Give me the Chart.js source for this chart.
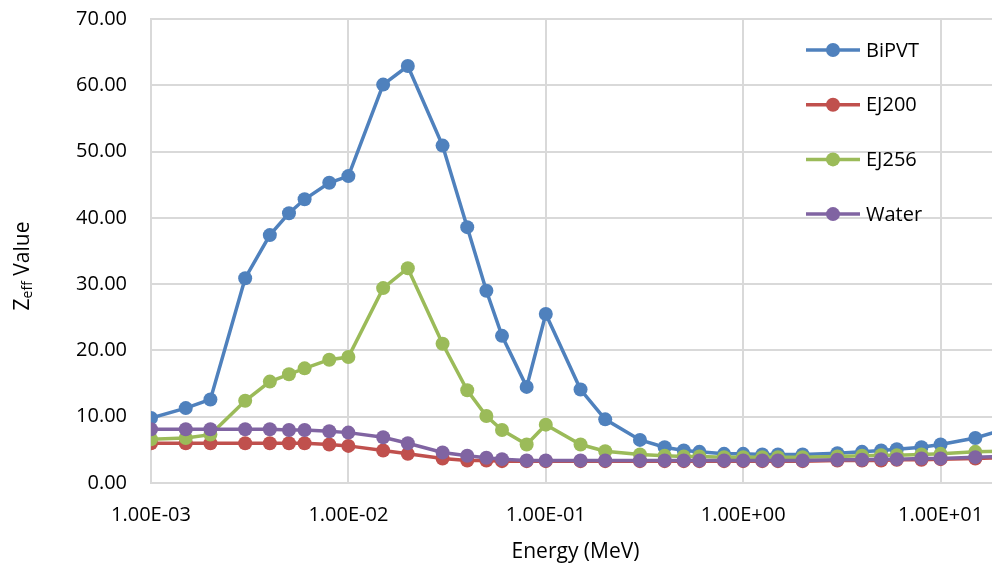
<!DOCTYPE html>
<html>
<head>
<meta charset="utf-8">
<script src="https://cdn.jsdelivr.net/npm/chart.js@4.4.1/dist/chart.umd.min.js"></script>
<style>
  html, body { margin: 0; padding: 0; background: #fff; overflow: hidden; }
  #wrap { width: 1010px; height: 573px; }
</style>
</head>
<body>
<div id="wrap"><canvas id="zeffchart" width="1010" height="573"></canvas></div>
<script>
const energy = [0.001, 0.0015, 0.002, 0.003, 0.004, 0.005, 0.006, 0.008, 0.01, 0.015, 0.02, 0.03, 0.04, 0.05, 0.06, 0.08,
    0.1, 0.15, 0.2, 0.3, 0.4, 0.5, 0.6, 0.8, 1, 1.25, 1.5, 2, 3, 4, 5, 6, 8, 10, 15, 20];

const bipvt = [9.8, 11.3, 12.6, 30.9, 37.4, 40.7, 42.8, 45.3, 46.3, 60.1, 62.9, 50.9, 38.6, 29.0, 22.2, 14.5,
    25.5, 14.1, 9.6, 6.5, 5.4, 4.9, 4.7, 4.4, 4.4, 4.3, 4.3, 4.3, 4.5, 4.7, 4.9, 5.1, 5.4, 5.8, 6.8, 7.9];
const ej200 = [6.0, 6.0, 6.0, 6.0, 6.0, 6.0, 6.0, 5.8, 5.6, 4.9, 4.4, 3.7, 3.4, 3.4, 3.3, 3.3,
    3.3, 3.3, 3.3, 3.3, 3.3, 3.3, 3.3, 3.3, 3.3, 3.3, 3.3, 3.3, 3.4, 3.4, 3.4, 3.5, 3.5, 3.6, 3.7, 3.8];
const ej256 = [6.6, 6.8, 7.3, 12.4, 15.3, 16.4, 17.3, 18.6, 19.0, 29.4, 32.4, 21.0, 14.0, 10.1, 8.0, 5.8,
    8.8, 5.8, 4.8, 4.3, 4.1, 4.0, 4.0, 3.9, 3.9, 3.9, 3.9, 3.9, 4.0, 4.1, 4.2, 4.2, 4.3, 4.4, 4.7, 4.8];
const water = [8.1, 8.1, 8.1, 8.1, 8.1, 8.0, 8.0, 7.8, 7.6, 6.9, 6.0, 4.6, 4.1, 3.8, 3.6, 3.4,
    3.4, 3.4, 3.4, 3.4, 3.4, 3.4, 3.4, 3.4, 3.4, 3.4, 3.4, 3.4, 3.5, 3.5, 3.6, 3.6, 3.7, 3.7, 3.9, 4.0];

const seriesNames = ['BiPVT', 'EJ200', 'EJ256', 'Water'];
const seriesColors = ['#4f81bd', '#c0504d', '#9bbb59', '#8064a2'];
const xTicks = [0.001, 0.01, 0.1, 1, 10];
const yTicks = [0, 10, 20, 30, 40, 50, 60, 70];

const FONT = "'Open Sans', sans-serif";

function pts(vals) {
    return energy.map((e, i) => ({ x: e, y: vals[i] }));
}

function sci(v) {
    // excel style 1.00E-03
    let exp = Math.round(Math.log10(v));
    let mant = v / Math.pow(10, exp);
    let s = exp < 0 ? '-' : '+';
    let a = Math.abs(exp);
    return mant.toFixed(2) + 'E' + s + (a < 10 ? '0' + a : a);
}

const allSeries = [bipvt, ej200, ej256, water];
const datasets = allSeries.map((vals, i) => ({
    label: seriesNames[i],
    data: pts(vals),
    borderColor: seriesColors[i],
    backgroundColor: seriesColors[i],
    pointBackgroundColor: seriesColors[i],
    pointBorderColor: seriesColors[i],
    borderWidth: 3.5,
    pointRadius: 7,
    pointBorderWidth: 0,
    tension: 0,
    order: 3 - i
}));

// y axis title with subscript
const yTitlePlugin = {
    id: 'ytitle',
    afterDraw(chart) {
        const ctx = chart.ctx;
        ctx.save();
        ctx.translate(23, 266);
        ctx.rotate(-Math.PI / 2);
        ctx.fillStyle = '#000';
        ctx.textBaseline = 'middle';
        ctx.font = '21px ' + FONT;
        const w1 = ctx.measureText('Z').width;
        const w3 = ctx.measureText(' Value').width;
        ctx.font = '14px ' + FONT;
        const w2 = ctx.measureText('eff').width;
        let x = -(w1 + w2 + w3) / 2;
        ctx.font = '21px ' + FONT;
        ctx.fillText('Z', x, 0);
        x += w1;
        ctx.font = '14px ' + FONT;
        ctx.fillText('eff', x, 5);
        x += w2;
        ctx.font = '21px ' + FONT;
        ctx.fillText(' Value', x, 0);
        ctx.restore();
    }
};

// legend drawn inside plot area
const legendPlugin = {
    id: 'inlegend',
    afterDraw(chart) {
        const ctx = chart.ctx;
        ctx.save();
        chart.data.datasets.forEach((ds, i) => {
            const y = 50 + i * 54.7;
            ctx.strokeStyle = ds.borderColor;
            ctx.lineWidth = 3.5;
            ctx.beginPath();
            ctx.moveTo(806, y);
            ctx.lineTo(860, y);
            ctx.stroke();
            ctx.fillStyle = ds.borderColor;
            ctx.beginPath();
            ctx.arc(833, y, 7, 0, Math.PI * 2);
            ctx.fill();
            ctx.fillStyle = '#000';
            ctx.font = '20px ' + FONT;
            ctx.textBaseline = 'middle';
            ctx.fillText(ds.label, 866, y + 1);
        });
        ctx.restore();
    }
};

const config = {
    type: 'line',
    data: { datasets: datasets },
    options: {
        responsive: false,
        animation: false,
        layout: { padding: { top: 19, right: 10, left: 0, bottom: 0 } },
        scales: {
            x: {
                type: 'logarithmic',
                min: 0.001,
                max: 20,
                afterBuildTicks: (axis) => { axis.ticks = xTicks.map(v => ({ value: v })); },
                afterFit: (axis) => {
                    axis.height = 90;
                    axis.paddingLeft = 0;
                    axis.paddingRight = 0;
                },
                ticks: {
                    callback: (v) => sci(v),
                    color: '#000',
                    font: { family: FONT, size: 20 },
                    padding: 20,
                    maxRotation: 0,
                    autoSkip: false
                },
                grid: { color: '#d9d9d9', lineWidth: 2, drawTicks: false },
                border: { color: '#d9d9d9', width: 2 },
                title: {
                    display: true,
                    text: 'Energy (MeV)',
                    color: '#000',
                    font: { family: FONT, size: 21 },
                    padding: { top: 0, bottom: 8 }
                }
            },
            y: {
                min: 0,
                max: 70,
                afterBuildTicks: (axis) => { axis.ticks = yTicks.map(v => ({ value: v })); },
                afterFit: (axis) => {
                    axis.width = 151;
                    axis.paddingTop = 0;
                    axis.paddingBottom = 0;
                },
                ticks: {
                    callback: (v) => v.toFixed(2),
                    color: '#000',
                    font: { family: FONT, size: 20 },
                    padding: 24
                },
                grid: { color: '#d9d9d9', lineWidth: 2, drawTicks: false },
                border: { color: '#d9d9d9', width: 2 }
            }
        },
        plugins: {
            legend: { display: false },
            tooltip: { enabled: false },
            title: { display: false }
        }
    },
    plugins: [yTitlePlugin, legendPlugin]
};

const zeffchart = new Chart(document.getElementById('zeffchart'), config);
</script>
</body>
</html>
